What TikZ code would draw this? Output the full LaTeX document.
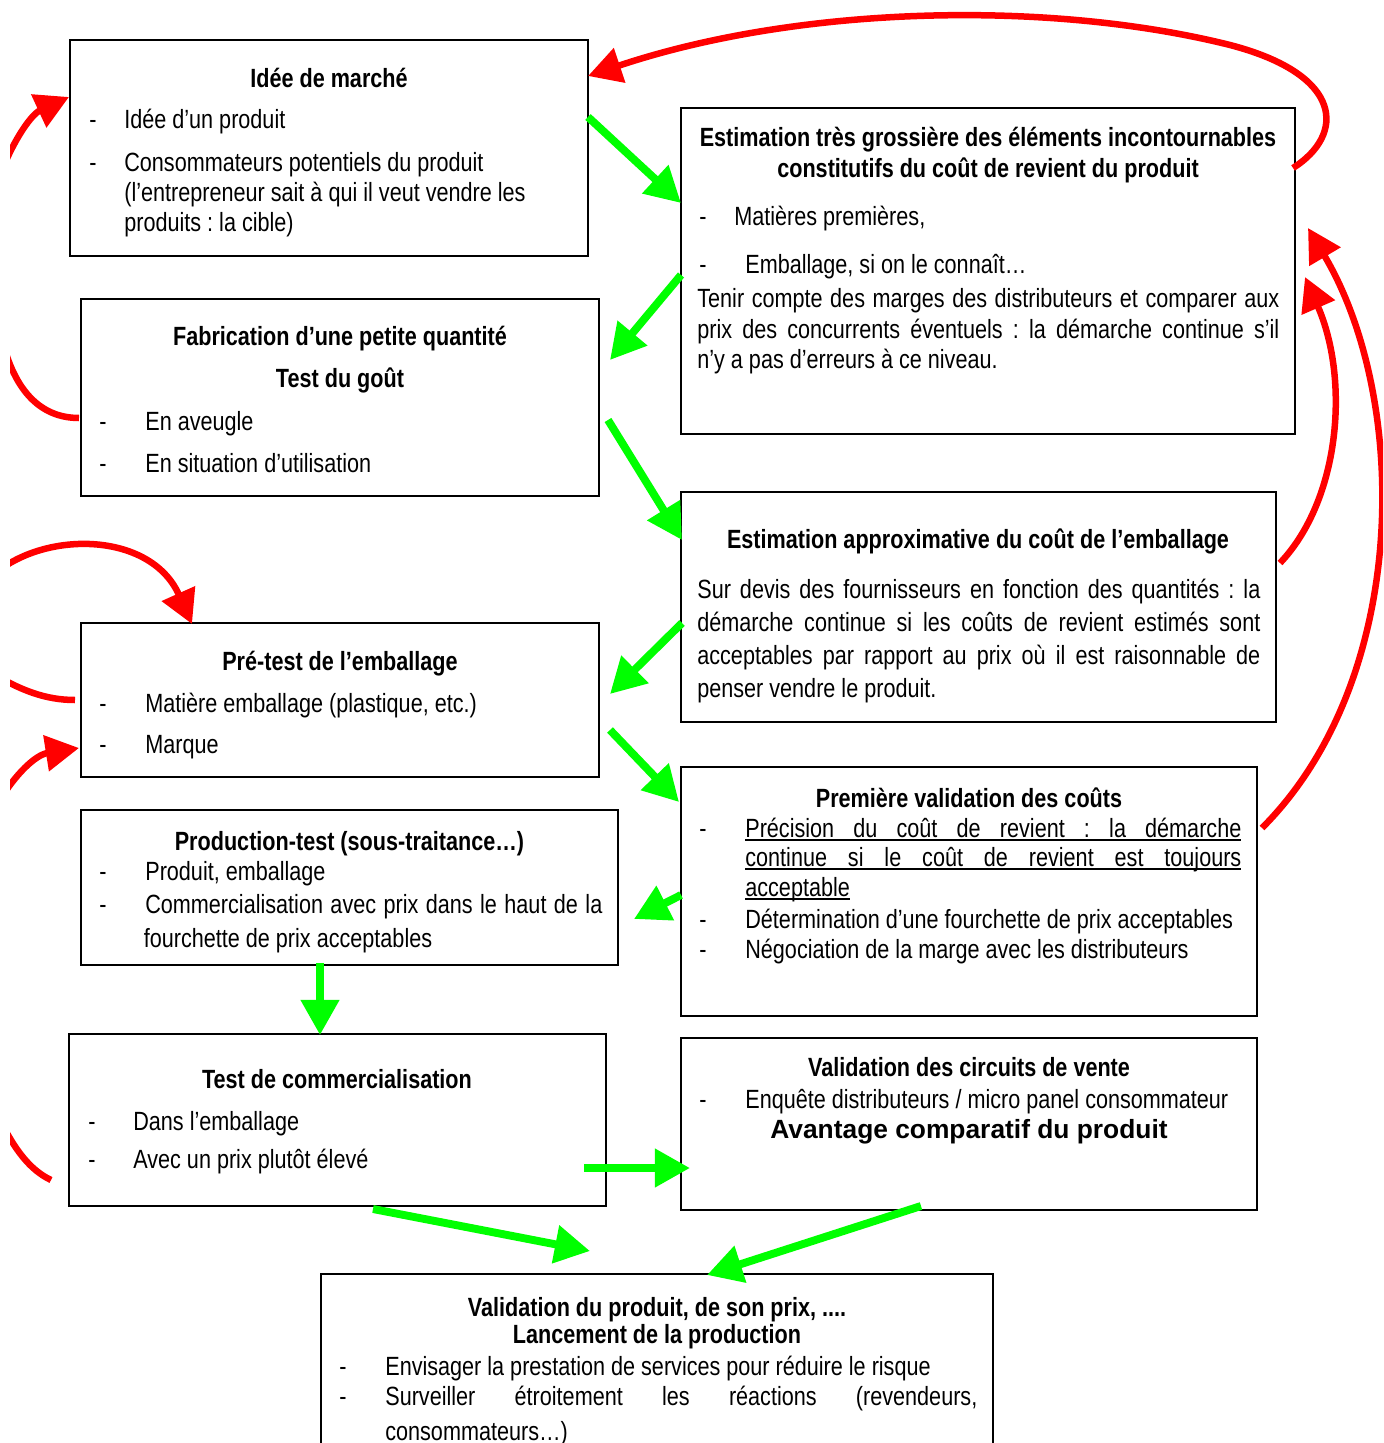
\documentclass[tikz,border=0pt]{standalone}
\usepackage{fontspec}
\setmainfont{Liberation Sans}[FakeStretch=0.82]
\newfontfamily\widefont{Liberation Sans}
\usetikzlibrary{arrows.meta}
\frenchspacing
\newlength\pxu \setlength\pxu{0.02cm}
\newcommand\myfs{\fontsize{15}{18}\selectfont\frenchspacing}
\newcommand\jline[2]{\makebox[#1\pxu][s]{#2}}
\newcommand\uljline[2]{\rlap{\rule[-2.2pt]{#1\pxu}{1.1pt}}\makebox[#1\pxu][s]{#2}}
\newcommand\ulnat[1]{\setbox0\hbox{#1}\rlap{\rule[-2.2pt]{\wd0}{1.1pt}}\box0}
\definecolor{gr}{RGB}{0,255,0}
\definecolor{rd}{RGB}{255,0,0}
\tikzset{
  box/.style={draw=black, line width=0.7pt, rectangle, inner sep=0pt, fill=none},
  txt/.style={anchor=base west, inner sep=0pt, font=\myfs},
  ttl/.style={anchor=base, inner sep=0pt, font=\myfs\bfseries},
  garrow/.style={draw=gr, line width=4.5pt, -{Triangle[length=20pt,width=21pt]}},
  rarrow/.style={draw=rd, line width=3.7pt, -{Triangle[length=19pt,width=20pt]}},
  rline/.style={draw=rd, line width=3.7pt}
}
\begin{document}
\begin{tikzpicture}[x=0.02cm, y=-0.02cm]
\useasboundingbox (0,0) rectangle (1383,1443);
\clip (0,0) rectangle (1383,1443);
\fill[white] (0,0) rectangle (1383,1443);

% ---------- boxes ----------
\node[box, minimum width=518\pxu, minimum height=216\pxu] (b1) at (329,148) {};
\node[box, minimum width=614\pxu, minimum height=326\pxu] (b2) at (988,271) {};
\node[box, minimum width=518\pxu, minimum height=197\pxu] (b3) at (340,397.5) {};
\node[box, minimum width=595\pxu, minimum height=230\pxu] (b4) at (978.5,607) {};
\node[box, minimum width=518\pxu, minimum height=154\pxu] (b5) at (340,700) {};
\node[box, minimum width=576\pxu, minimum height=249\pxu] (b6) at (969,891.5) {};
\node[box, minimum width=537\pxu, minimum height=155\pxu] (b7) at (349.5,887.5) {};
\node[box, minimum width=537\pxu, minimum height=172\pxu] (b8) at (337.5,1120) {};
\node[box, minimum width=576\pxu, minimum height=172\pxu] (b9) at (969,1124) {};
\node[box, minimum width=672\pxu, minimum height=226\pxu] (b10) at (657,1387) {};

% ---------- box 1 ----------
\node[ttl] (t1) at (329,88) {Idée de marché};
\node[txt] (d1a) at (89,129) {-};
\node[txt] (l1a) at (124,129) {Idée d’un produit};
\node[txt] (d1b) at (89,172) {-};
\node[txt] (l1b) at (124,172) {Consommateurs potentiels du produit};
\node[txt] (l1c) at (124,201) {(l’entrepreneur sait à qui il veut vendre les};
\node[txt] (l1d) at (124,231) {produits : la cible)};

% ---------- box 2 ----------
\node[ttl] (t2a) at (988,147) {Estimation très grossière des éléments incontournables};
\node[ttl] (t2b) at (988,177) {constitutifs du coût de revient du produit};
\node[txt] (d2a) at (699,225) {-};
\node[txt] (l2a) at (734,225) {Matières premières,};
\node[txt] (d2b) at (699,273) {-};
\node[txt] (l2b) at (745,273) {Emballage, si on le connaît…};
\node[txt] (l2c) at (697,307) {\jline{582}{Tenir compte des marges des distributeurs et comparer aux}};
\node[txt] (l2d) at (697,338) {\jline{582}{prix des concurrents éventuels : la démarche continue s’il}};
\node[txt] (l2e) at (697,368) {n’y a pas d’erreurs à ce niveau.};

% ---------- box 3 ----------
\node[ttl] (t3a) at (340,345) {Fabrication d’une petite quantité};
\node[ttl] (t3b) at (340,387) {Test du goût};
\node[txt] (d3a) at (99,430) {-};
\node[txt] (l3a) at (145,430) {En aveugle};
\node[txt] (d3b) at (99,472) {-};
\node[txt] (l3b) at (145,472) {En situation d’utilisation};

% ---------- box 4 ----------
\node[ttl] (t4) at (978,548) {Estimation approximative du coût de l’emballage};
\node[txt] (l4a) at (697,598) {\jline{563}{Sur devis des fournisseurs en fonction des quantités : la}};
\node[txt] (l4b) at (697,631) {\jline{563}{démarche continue si les coûts de revient estimés sont}};
\node[txt] (l4c) at (697,664) {\jline{563}{acceptables par rapport au prix où il est raisonnable de}};
\node[txt] (l4d) at (697,697) {penser vendre le produit.};

% ---------- box 5 ----------
\node[ttl] (t5) at (340,670) {Pré-test de l’emballage};
\node[txt] (d5a) at (99,712) {-};
\node[txt] (l5a) at (145,712) {Matière emballage (plastique, etc.)};
\node[txt] (d5b) at (99,753) {-};
\node[txt] (l5b) at (145,753) {Marque};

% ---------- box 6 ----------
\node[ttl] (t6) at (969,807) {Première validation des coûts};
\node[txt] (d6a) at (699,837) {-};
\node[txt] (l6a) at (745,837) {\uljline{496}{Précision du coût de revient : la démarche}};
\node[txt] (l6b) at (745,866) {\uljline{496}{continue si le coût de revient est toujours}};
\node[txt] (l6c) at (745,896) {\ulnat{acceptable}};
\node[txt] (d6b) at (699,928) {-};
\node[txt] (l6d) at (745,928) {Détermination d’une fourchette de prix acceptables};
\node[txt] (d6c) at (699,958) {-};
\node[txt] (l6e) at (745,958) {Négociation de la marge avec les distributeurs};

% ---------- box 7 ----------
\node[ttl] (t7) at (349.5,850) {Production-test (sous-traitance…)};
\node[txt] (d7a) at (99,880) {-};
\node[txt] (l7a) at (145,880) {Produit, emballage};
\node[txt] (d7b) at (99,913) {-};
\node[txt] (l7b) at (145,913) {\jline{457}{Commercialisation avec prix dans le haut de la}};
\node[txt] (l7c) at (143.5,947) {fourchette de prix acceptables};

% ---------- box 8 ----------
\node[ttl] (t8) at (337,1088) {Test de commercialisation};
\node[txt] (d8a) at (88,1130) {-};
\node[txt] (l8a) at (133,1130) {Dans l’emballage};
\node[txt] (d8b) at (88,1168) {-};
\node[txt] (l8b) at (133,1168) {Avec un prix plutôt élevé};

% ---------- box 9 ----------
\node[ttl] (t9) at (969,1076) {Validation des circuits de vente};
\node[txt] (d9a) at (699,1108) {-};
\node[txt] (l9a) at (745,1108) {Enquête distributeurs / micro panel consommateur};
\node[anchor=base, inner sep=0pt, font=\myfs\widefont\bfseries] (t9b) at (969,1138) {Avantage comparatif du produit};

% ---------- box 10 ----------
\node[ttl] (t10a) at (657,1316) {Validation du produit, de son prix, ....};
\node[ttl] (t10b) at (657,1343) {Lancement de la production};
\node[txt] (d10a) at (339,1375) {-};
\node[txt] (l10a) at (385,1375) {Envisager la prestation de services pour réduire le risque};
\node[txt] (d10b) at (339,1405) {-};
\node[txt] (l10b) at (385,1405) {\jline{592}{Surveiller étroitement les réactions (revendeurs,}};
\node[txt] (l10c) at (385,1440) {consommateurs…)};

% ---------- green arrows ----------
\coordinate (g1s) at (588,117);  \coordinate (g1e) at (681,203);
\coordinate (g2s) at (681,275);  \coordinate (g2e) at (610,360);
\coordinate (g3s) at (608,420);  \coordinate (g3e) at (682,540);
\coordinate (g4s) at (682,623);  \coordinate (g4e) at (610,694);
\coordinate (g5s) at (610,730);  \coordinate (g5e) at (679,802);
\coordinate (g6s) at (681,895);  \coordinate (g6e) at (634,919);
\coordinate (g7s) at (320,963);  \coordinate (g7e) at (320,1035);
\coordinate (g8s) at (584,1168); \coordinate (g8e) at (690,1168);
\coordinate (g9s) at (373,1209); \coordinate (g9e) at (590,1251);
\coordinate (g10s) at (921,1206); \coordinate (g10e) at (707,1275);
\foreach \i in {1,...,10} { \draw[garrow] (g\i s) -- (g\i e); }

% ---------- red arrows (right side) ----------
\coordinate (r1s) at (1293,168); \coordinate (r1e) at (588,76);
\draw[rarrow] (r1s) .. controls (1345,135) and (1345,75) .. (1230,45)
               .. controls (1050,0) and (800,5) .. (r1e);
\coordinate (r2s) at (1280,563); \coordinate (r2e) at (1305,277);
\draw[rarrow] (r2s) .. controls (1340,500) and (1350,380) .. (r2e);
\coordinate (r3s) at (1262,828); \coordinate (r3e) at (1308,228);
\draw[rarrow] (r3s) .. controls (1410,680) and (1410,400) .. (r3e);

% ---------- red arcs (left side, cut at the margin) ----------
\begin{scope}
\clip (10,0) rectangle (1383,1443);
\coordinate (l1s) at (-5,190);   \coordinate (l1e) at (69,97);
\draw[rarrow] (l1s) .. controls (8,148) and (30,115) .. (l1e);
\coordinate (l2s) at (0,330);    \coordinate (l2e) at (79,418);
\draw[rline] (l2s) .. controls (12,390) and (40,418) .. (l2e);
\coordinate (l3s) at (-10,578);  \coordinate (l3e) at (192,624);
\draw[rarrow] (l3s) .. controls (40,530) and (150,530) .. (l3e);
\coordinate (l4s) at (-10,672);  \coordinate (l4e) at (75,700);
\draw[rline] (l4s) .. controls (20,690) and (45,700) .. (l4e);
\coordinate (l5s) at (0,800);    \coordinate (l5e) at (79,748);
\draw[rarrow] (l5s) .. controls (15,775) and (35,755) .. (l5e);
\coordinate (l6s) at (0,1120);   \coordinate (l6e) at (51,1180);
\draw[rline] (l6s) .. controls (15,1150) and (30,1170) .. (l6e);
\end{scope}
\end{tikzpicture}
\end{document}
